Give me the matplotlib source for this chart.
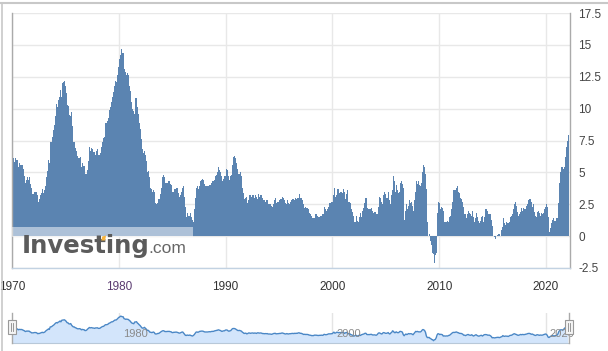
import matplotlib
matplotlib.use("Agg")
import matplotlib.pyplot as plt
from matplotlib.patches import Rectangle, Polygon
from matplotlib.lines import Line2D
import numpy as np

# Monthly US CPI YoY (%), Jan 1970 .. Feb 2022
cpi_1970s = [
    6.2, 6.1, 5.8, 6.1, 6.0, 6.0, 6.0, 5.4, 5.7, 5.6, 5.6, 5.6,
    5.3, 5.0, 4.7, 4.2, 4.4, 4.6, 4.4, 4.6, 4.1, 3.8, 3.3, 3.3,
    3.3, 3.5, 3.5, 3.5, 3.2, 2.7, 2.9, 2.9, 3.2, 3.4, 3.7, 3.4,
    3.6, 3.9, 4.6, 5.1, 5.5, 6.0, 5.7, 7.4, 7.4, 7.8, 8.3, 8.7,
    9.4, 10.0, 10.4, 10.1, 10.7, 10.9, 11.5, 10.9, 12.0, 12.1, 12.2, 12.3,
    11.8, 11.2, 10.3, 10.2, 9.5, 9.4, 9.7, 8.6, 7.9, 7.4, 7.4, 6.9,
    6.7, 6.3, 6.1, 6.1, 6.2, 6.0, 5.4, 5.7, 5.5, 5.5, 4.9, 4.9,
    5.2, 5.9, 6.4, 7.0, 6.7, 6.9, 6.8, 6.6, 6.6, 6.4, 6.7, 6.7,
    6.8, 6.4, 6.4, 6.5, 7.0, 7.4, 7.7, 7.8, 8.3, 8.9, 8.9, 9.0,
    9.3, 9.9, 10.1, 10.5, 10.9, 10.9, 11.3, 11.8, 12.2, 12.1, 12.6, 13.3,
]
cpi_1980s = [
    13.9, 14.2, 14.8, 14.7, 14.4, 14.4, 13.1, 12.9, 12.6, 12.8, 12.6, 12.5,
    11.8, 11.4, 10.5, 10.0, 9.8, 9.6, 10.8, 10.8, 11.0, 10.1, 9.6, 8.9,
    8.4, 7.6, 6.8, 6.5, 6.7, 7.1, 6.4, 5.9, 5.0, 5.1, 4.6, 3.8,
    3.7, 3.5, 3.6, 3.9, 3.5, 2.6, 2.5, 2.6, 2.9, 2.9, 3.3, 3.8,
    4.2, 4.6, 4.8, 4.6, 4.2, 4.2, 4.2, 4.3, 4.3, 4.3, 4.1, 4.0,
    3.5, 3.5, 3.7, 3.7, 3.8, 3.8, 3.6, 3.4, 3.1, 3.2, 3.5, 3.8,
    3.9, 3.1, 2.3, 1.6, 1.5, 1.8, 1.6, 1.6, 1.8, 1.5, 1.3, 1.1,
    1.5, 2.1, 3.0, 3.8, 3.9, 3.7, 3.9, 4.3, 4.4, 4.5, 4.5, 4.4,
    4.1, 3.9, 3.9, 3.9, 3.9, 4.0, 4.1, 4.0, 4.2, 4.3, 4.3, 4.4,
    4.7, 4.8, 5.0, 5.1, 5.4, 5.2, 5.0, 4.7, 4.3, 4.5, 4.7, 4.7,
]
cpi_1990s = [
    5.2, 5.3, 5.2, 4.7, 4.4, 4.7, 4.8, 5.6, 6.2, 6.3, 6.3, 6.1,
    5.7, 5.3, 4.9, 4.9, 5.0, 4.7, 4.5, 3.8, 3.4, 2.9, 3.0, 3.1,
    2.6, 2.8, 3.2, 3.2, 3.0, 3.1, 3.2, 3.2, 3.0, 3.2, 3.1, 2.9,
    3.3, 3.3, 3.1, 3.2, 3.2, 3.0, 2.8, 2.8, 2.7, 2.8, 2.7, 2.8,
    2.5, 2.5, 2.5, 2.4, 2.3, 2.5, 2.8, 2.9, 3.0, 2.6, 2.7, 2.7,
    2.8, 2.9, 2.9, 3.1, 3.2, 3.0, 2.8, 2.6, 2.5, 2.8, 2.6, 2.5,
    2.7, 2.7, 2.8, 2.9, 2.9, 2.8, 3.0, 2.9, 3.0, 3.0, 3.3, 3.3,
    3.0, 3.0, 2.8, 2.5, 2.2, 2.3, 2.2, 2.2, 2.2, 2.1, 1.8, 1.7,
    1.6, 1.4, 1.4, 1.4, 1.7, 1.7, 1.7, 1.6, 1.5, 1.5, 1.6, 1.6,
    1.7, 1.6, 1.7, 2.3, 2.1, 2.0, 2.1, 2.3, 2.6, 2.6, 2.6, 2.7,
]
cpi_2000s = [
    2.7, 3.2, 3.8, 3.1, 3.2, 3.7, 3.7, 3.4, 3.5, 3.5, 3.5, 3.4,
    3.7, 3.5, 2.9, 3.3, 3.6, 3.3, 2.7, 2.7, 2.6, 2.1, 1.9, 1.6,
    1.1, 1.1, 1.5, 1.6, 1.2, 1.1, 1.5, 1.8, 1.5, 2.0, 2.2, 2.4,
    2.6, 3.0, 3.0, 2.2, 2.1, 2.1, 2.1, 2.2, 2.3, 2.0, 1.8, 1.9,
    1.9, 1.7, 1.7, 2.3, 3.1, 3.3, 3.0, 2.7, 2.5, 3.2, 3.5, 3.3,
    3.0, 3.0, 3.1, 3.5, 2.8, 2.5, 3.2, 3.6, 4.7, 4.3, 3.5, 3.4,
    4.0, 3.6, 3.4, 3.5, 4.2, 4.3, 4.1, 3.8, 2.1, 1.3, 2.0, 2.5,
    2.1, 2.4, 2.8, 2.6, 2.7, 2.7, 2.4, 2.0, 2.8, 3.5, 4.3, 4.1,
    4.3, 4.0, 4.0, 3.9, 4.2, 5.0, 5.6, 5.4, 4.9, 3.7, 1.1, 0.1,
    0.0, 0.2, -0.4, -0.7, -1.3, -1.4, -2.1, -1.5, -1.3, -0.2, 1.8, 2.7,
]
cpi_2010s = [
    2.6, 2.1, 2.3, 2.2, 2.0, 1.1, 1.2, 1.1, 1.1, 1.2, 1.1, 1.5,
    1.6, 2.1, 2.7, 3.2, 3.6, 3.6, 3.6, 3.8, 3.9, 3.5, 3.4, 3.0,
    2.9, 2.9, 2.7, 2.3, 1.7, 1.7, 1.4, 1.7, 2.0, 2.2, 1.8, 1.7,
    1.6, 2.0, 1.5, 1.1, 1.4, 1.8, 2.0, 1.5, 1.2, 1.0, 1.2, 1.5,
    1.6, 1.1, 1.5, 2.0, 2.1, 2.1, 2.0, 1.7, 1.7, 1.7, 1.3, 0.8,
    -0.1, 0.0, -0.1, -0.2, 0.0, 0.1, 0.2, 0.2, 0.0, 0.2, 0.5, 0.7,
    1.4, 1.0, 0.9, 1.1, 1.0, 1.0, 0.8, 1.1, 1.5, 1.6, 1.7, 2.1,
    2.5, 2.7, 2.4, 2.2, 1.9, 1.6, 1.7, 1.9, 2.2, 2.0, 2.2, 2.1,
    2.1, 2.2, 2.4, 2.5, 2.8, 2.9, 2.9, 2.7, 2.3, 2.5, 2.2, 1.9,
    1.6, 1.5, 1.9, 2.0, 1.8, 1.6, 1.8, 1.7, 1.7, 1.8, 2.1, 2.3,
]
cpi_2020s = [
    2.5, 2.3, 1.5, 0.3, 0.1, 0.6, 1.0, 1.3, 1.4, 1.2, 1.2, 1.4,
    1.4, 1.7, 2.6, 4.2, 5.0, 5.4, 5.4, 5.3, 5.4, 6.2, 6.8, 7.0,
    7.5, 7.9,
]
values = np.array(cpi_1970s + cpi_1980s + cpi_1990s + cpi_2000s + cpi_2010s + cpi_2020s)
start_year = 1970
years = start_year + np.arange(len(values)) / 12.0

y_ticks = [-2.5, 0, 2.5, 5, 7.5, 10, 12.5, 15, 17.5]
y_tick_labels = ["-2.5", "0", "2.5", "5", "7.5", "10", "12.5", "15", "17.5"]
x_ticks = [1970, 1980, 1990, 2000, 2010, 2020]
x_tick_labels = ["1970", "1980", "1990", "2000", "2010", "2020"]
nav_ticks = [1980, 2000, 2020]
nav_labels = ["1980", "2000", "2020"]

W, H = 608, 351
plt.rcParams['font.family'] = ['Liberation Sans', 'DejaVu Sans']
fig = plt.figure(figsize=(W / 100, H / 100), dpi=100)
fig.patch.set_facecolor('white')

def fx(px):
    return px / W
def fy(py):
    return 1 - py / H

# ---- main axes
L, R, T, B = 12, 570, 13, 268
ax = fig.add_axes([fx(L), fy(B), (R - L) / W, (B - T) / H])
ax.bar(years, values, width=1 / 12, align='edge', color='#5b84b1', linewidth=0, zorder=2)
ax.set_xlim(1970, 2022.25)
ax.set_ylim(-2.5, 17.5)
ax.set_yticks(y_ticks)
ax.set_yticklabels(y_tick_labels)
ax.set_xticks(x_ticks)
ax.set_xticklabels(x_tick_labels)
ax.yaxis.tick_right()
ax.tick_params(axis='y', length=0, pad=6, labelsize=8.5, colors='#444444')
ax.tick_params(axis='x', length=0, pad=9, labelsize=8.5, colors='#333333')
ax.get_xticklabels()[1].set_color('#5a3a70')
ax.grid(True, color='#e8e8e8', linewidth=1, zorder=0)
ax.set_axisbelow(True)
ax.spines['top'].set_visible(False)
ax.spines['left'].set_color('#aaaaaa')
ax.spines['right'].set_color('#aaaaaa')
ax.spines['bottom'].set_color('#c2d2e2')
for s in ax.spines.values():
    s.set_linewidth(1)

# ---- watermark logo
fig.add_artist(Rectangle((fx(12), fy(237)), (193 - 12) / W, 10.5 / H,
                         transform=fig.transFigure, facecolor='white', alpha=0.5,
                         linewidth=0, zorder=5))
renderer = fig.canvas.get_renderer()
logo_x0, baseline = 22, 253
logo_kw = dict(fontsize=17.6, fontweight='bold', family='DejaVu Sans',
               ha='left', va='baseline', zorder=6)
word = fig.text(fx(logo_x0), fy(baseline), "Investing", color='#5b5b5b', **logo_kw)
word_w = word.get_window_extent(renderer).width
probe = fig.text(fx(logo_x0), fy(baseline), "Inves", color='none', **logo_kw)
pre_w = probe.get_window_extent(renderer).width
probe.remove()
fig.text(fx(logo_x0 + word_w - 1.5), fy(baseline), ".com", fontsize=12.5, color='#666666',
         ha='left', va='baseline', zorder=6)
# orange accent on top of the 't'
ox = logo_x0 + pre_w + 6.0
fig.add_artist(Polygon([(fx(ox), fy(240.5)), (fx(ox + 3.8), fy(240.5)), (fx(ox + 4.8), fy(235.5)),
                        (fx(ox + 1), fy(236.5))], closed=True, transform=fig.transFigure,
                       facecolor='#f6b33e', linewidth=0, zorder=7))

# ---- outer frame lines
fig.add_artist(Line2D([0, 1], [fy(2.5), fy(2.5)], transform=fig.transFigure,
                      color='#c8c8c8', linewidth=1.5))
fig.add_artist(Line2D([fx(1.5), fx(1.5)], [0, fy(2.5)], transform=fig.transFigure,
                      color='#c8c8c8', linewidth=1.2))

# ---- navigator
NL, NR, NT, NB = 12, 569, 313, 343
nav = fig.add_axes([fx(NL), fy(NB), (NR - NL) / W, (NB - NT) / H])
nav.fill_between(years, values, -3.7, color='#d3e5fb', linewidth=0)
nav.plot(years, values, color='#4a87c6', linewidth=1.0)
nav.set_xlim(1970, 2022.2)
nav.set_ylim(-3.7, 17.0)
nav.set_yticks([])
nav.set_xticks(nav_ticks)
nav.set_xticklabels([])
nav.grid(True, axis='x', color='#e4e4e4', linewidth=1)
nav.set_axisbelow(True)
for s in ['top', 'left', 'right']:
    nav.spines[s].set_visible(False)
nav.spines['bottom'].set_color('#b8c8d8')
nav.tick_params(length=0)
for t, lab in zip(nav_ticks, nav_labels):
    nav.text(t + 0.4, 0.3, lab, fontsize=8, color='#8a8a8a', ha='left', va='center',
             transform=nav.get_xaxis_transform())

for hx in [NL, NR]:
    fig.add_artist(Line2D([fx(hx), fx(hx)], [fy(NB), fy(NT)], transform=fig.transFigure,
                          color='#aaaaaa', linewidth=1))
    fig.add_artist(Rectangle((fx(hx - 4), fy(334)), 8 / W, 14 / H, transform=fig.transFigure,
                             facecolor='#f4f4f4', edgecolor='#999999', linewidth=0.8, zorder=8))
    for dx in (-1, 1):
        fig.add_artist(Line2D([fx(hx + dx), fx(hx + dx)], [fy(331), fy(323)],
                              transform=fig.transFigure, color='#888888', linewidth=0.6, zorder=9))

fig.savefig("out.png", dpi=100, facecolor='white')
